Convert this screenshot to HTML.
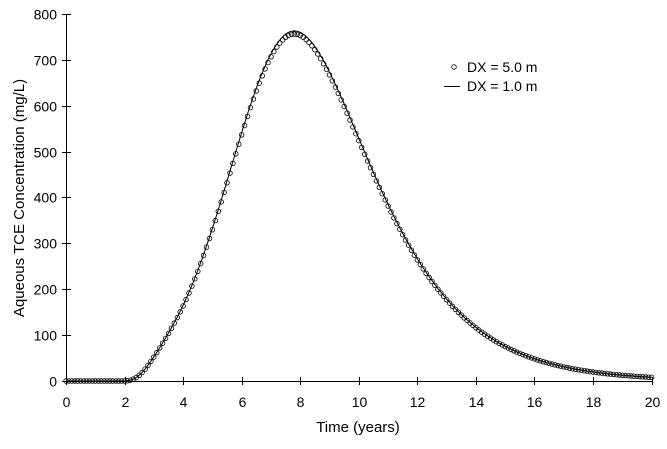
<!DOCTYPE html>
<html><head><meta charset="utf-8"><style>
body{margin:0;background:#fff}
svg text{font-family:"Liberation Sans",Arial,sans-serif;font-size:14px;fill:#000}
</style></head><body>
<svg id="s" width="667" height="444" xmlns="http://www.w3.org/2000/svg">
<g stroke="#000" stroke-width="1" fill="none">
<line x1="66.5" y1="14" x2="66.5" y2="381"/>
<line x1="66" y1="381.5" x2="652" y2="381.5"/>
</g>
<g id="ticks" stroke="#000"></g>
<g id="lbl"></g>
<path id="line" fill="none" stroke="#000" stroke-width="1"/>
<g id="mk" fill="none" stroke="#000" stroke-width="0.8"></g>
<circle cx="454" cy="67" r="2.3" fill="none" stroke="#000" stroke-width="0.8"/>
<text x="467" y="72">DX = 5.0 m</text>
<line x1="444" y1="86.5" x2="460" y2="86.5" stroke="#000"/>
<text x="467" y="91">DX = 1.0 m</text>
<text x="358" y="432" text-anchor="middle" style="font-size:15px">Time (years)</text>
<text transform="translate(24,198) rotate(-90)" text-anchor="middle" style="font-size:15px">Aqueous TCE Concentration (mg/L)</text>
</svg>
<script>
var X=t=>66+t*29.28, Y=c=>381-c*0.4588;
var tk=document.getElementById('ticks'),lb=document.getElementById('lbl'),ns='http://www.w3.org/2000/svg';
function el(p,tag,a,txt){var e=document.createElementNS(ns,tag);for(var k in a)e.setAttribute(k,a[k]);if(txt!=null)e.textContent=txt;p.appendChild(e);}
for(var i=0;i<=10;i++){var x=Math.round(X(2*i))+0.5;el(tk,'line',{x1:x,y1:377,x2:x,y2:385});el(lb,'text',{x:x,y:407,'text-anchor':'middle'},2*i);}
for(var j=0;j<=8;j++){var y=Math.round(Y(100*j))+0.5;el(tk,'line',{x1:62,y1:y,x2:71,y2:y});el(lb,'text',{x:57,y:y+5,'text-anchor':'end'},100*j);}
function f(t){if(t<=2)return 0;var v;if(t<7.8){v=760*Math.exp(-Math.pow(t-7.8,2)/9.45);}else{var d=Math.log(t-2)-Math.log(5.8);v=760*Math.exp(-d*d/0.282);}
return v*(1-Math.exp(-Math.pow((t-2)/0.8,2)));}
var d='';for(var t=0;t<=20.001;t+=0.05){d+=(t?'L':'M')+X(t).toFixed(1)+' '+Y(f(t)*1.004).toFixed(1);}
document.getElementById('line').setAttribute('d',d);
var mk=document.getElementById('mk');
for(var t=0;t<=20.001;t+=0.1){el(mk,'circle',{cx:X(t).toFixed(1),cy:Y(f(t)*0.995).toFixed(1),r:2.3});}
</script>
</body></html>
